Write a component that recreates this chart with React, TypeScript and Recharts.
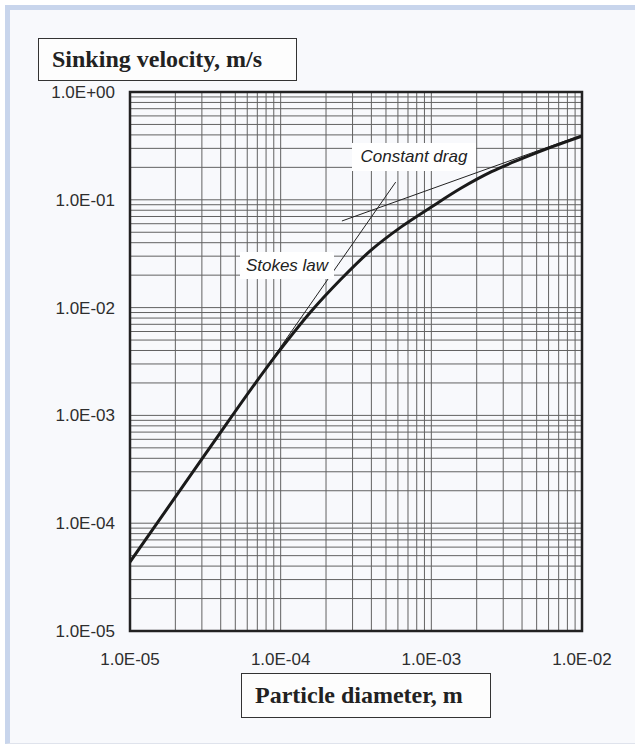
import React from "react";
import { LineChart, Line, XAxis, YAxis, CartesianGrid, ReferenceArea } from "recharts";

// Particle diameter (m) and sinking velocity (m/s)
const diameters = [1e-5, 3.16e-5, 1e-4, 1.58e-4, 2.51e-4, 3.98e-4, 6.31e-4, 1e-3, 1.58e-3, 2.51e-3, 3.98e-3, 6.31e-3, 1e-2];
const velocities = [4.37e-5, 4.37e-4, 4.12e-3, 9.1e-3, 0.0183, 0.0341, 0.0561, 0.0857, 0.1285, 0.1824, 0.2404, 0.3097, 0.39];

// Stokes law asymptote
const stokesD = [1e-5, 5.8e-4];
const stokesV = [4.3e-5, 0.146];

// Constant drag asymptote
const dragD = [2.55e-4, 1e-2];
const dragV = [0.0636, 0.4];

const xMajor = [1e-5, 1e-4, 1e-3, 1e-2];
const xMajorLabels = ["1.0E-05", "1.0E-04", "1.0E-03", "1.0E-02"];
const yMajor = [1e-5, 1e-4, 1e-3, 1e-2, 1e-1, 1];
const yMajorLabels = ["1.0E-05", "1.0E-04", "1.0E-03", "1.0E-02", "1.0E-01", "1.0E+00"];
const minorMult = [2, 3, 4, 5, 6, 7, 8, 9];

const curve = diameters.map((d, i) => ({ d, v: velocities[i] }));
const stokes = stokesD.map((d, i) => ({ d, v: stokesV[i] }));
const drag = dragD.map((d, i) => ({ d, v: dragV[i] }));

const withMinors = (majors: number[]) => {
  const out: number[] = [];
  majors.forEach((m, i) => {
    out.push(m);
    if (i < majors.length - 1) minorMult.forEach((k) => out.push(m * k));
  });
  return out;
};
const xTicks = withMinors(xMajor);
const yTicks = withMinors(yMajor);

const labelFor = (val: number, majors: number[], labels: string[]) => {
  for (let i = 0; i < majors.length; i++) {
    if (Math.abs(Math.log10(val) - Math.log10(majors[i])) < 1e-6) return labels[i];
  }
  return "";
};

const tickFont = "'Liberation Sans', Arial, sans-serif";

const XTick = (props: any) => {
  const { x, y, payload } = props;
  const t = labelFor(payload.value, xMajor, xMajorLabels);
  if (!t) return null;
  return (
    <text x={x} y={y + 14} textAnchor="middle" fontSize={17} fontFamily={tickFont} fill="#2e2e2e">
      {t}
    </text>
  );
};

const YTick = (props: any) => {
  const { x, y, payload } = props;
  const t = labelFor(payload.value, yMajor, yMajorLabels);
  if (!t) return null;
  return (
    <text x={x} y={y + 6} textAnchor="end" fontSize={17} fontFamily={tickFont} fill="#2e2e2e">
      {t}
    </text>
  );
};

const serif = "'Liberation Serif', 'Times New Roman', serif";

export default function App() {
  return (
    <div style={{ position: "absolute", left: 0, top: 0, width: 635, height: 745, background: "#ffffff", overflow: "hidden" }}>
      <div
        style={{
          position: "absolute",
          left: 5,
          top: 5,
          width: 630,
          height: 739,
          boxSizing: "border-box",
          background: "#f8f9fc",
          borderTop: "5px solid #c8d5ec",
          borderLeft: "5px solid #c8d5ec",
          borderBottom: "1px solid #dfe3ec",
        }}
      />
      <div style={{ position: "absolute", left: 0, top: 0 }}>
        <LineChart width={635} height={745} margin={{ top: 92, right: 53, bottom: 84, left: 70 }}>
          <CartesianGrid stroke="#626262" strokeWidth={1} />
          <XAxis
            dataKey="d"
            type="number"
            scale="log"
            domain={[1e-5, 1e-2]}
            allowDataOverflow
            ticks={xTicks}
            interval={0}
            height={30}
            tickSize={0}
            tickMargin={20}
            axisLine={false}
            tickLine={false}
            tick={<XTick />}
          />
          <YAxis
            type="number"
            scale="log"
            domain={[1e-5, 1]}
            allowDataOverflow
            ticks={yTicks}
            interval={0}
            width={60}
            tickSize={0}
            tickMargin={15}
            axisLine={false}
            tickLine={false}
            tick={<YTick />}
          />
          <Line data={stokes} dataKey="v" type="linear" stroke="#222" strokeWidth={1} dot={false} isAnimationActive={false} />
          <Line data={drag} dataKey="v" type="linear" stroke="#222" strokeWidth={1} dot={false} isAnimationActive={false} />
          <Line data={curve} dataKey="v" type="monotone" stroke="#1a1a1a" strokeWidth={3} dot={false} isAnimationActive={false} />
          <ReferenceArea x1={1e-5} x2={1e-2} y1={1e-5} y2={1} fill="none" stroke="#222" strokeWidth={2.5} ifOverflow="visible" />
        </LineChart>
      </div>

      {/* curve annotations */}
      <div
        style={{
          position: "absolute",
          left: 352,
          top: 143,
          width: 124,
          height: 28,
          background: "#ffffff",
          fontFamily: tickFont,
          fontStyle: "italic",
          fontSize: 17,
          color: "#222",
          lineHeight: "28px",
          textAlign: "center",
          whiteSpace: "nowrap",
        }}
      >
        Constant drag
      </div>
      <div
        style={{
          position: "absolute",
          left: 240,
          top: 252,
          width: 94,
          height: 27,
          background: "#ffffff",
          fontFamily: tickFont,
          fontStyle: "italic",
          fontSize: 17,
          color: "#222",
          lineHeight: "27px",
          textAlign: "center",
          whiteSpace: "nowrap",
        }}
      >
        Stokes law
      </div>

      {/* axis title boxes */}
      <div
        style={{
          position: "absolute",
          left: 38,
          top: 38,
          width: 259,
          height: 43,
          boxSizing: "border-box",
          border: "1.5px solid #333",
          background: "#fdfdfd",
          fontFamily: serif,
          fontWeight: "bold",
          fontSize: 24,
          color: "#222",
          lineHeight: "40px",
          paddingLeft: 13,
          whiteSpace: "nowrap",
        }}
      >
        Sinking velocity, m/s
      </div>
      <div
        style={{
          position: "absolute",
          left: 241,
          top: 673,
          width: 250,
          height: 45,
          boxSizing: "border-box",
          border: "1.5px solid #333",
          background: "#fdfdfd",
          fontFamily: serif,
          fontWeight: "bold",
          fontSize: 24,
          color: "#222",
          lineHeight: "42px",
          paddingLeft: 13,
          whiteSpace: "nowrap",
        }}
      >
        Particle diameter, m
      </div>
    </div>
  );
}
